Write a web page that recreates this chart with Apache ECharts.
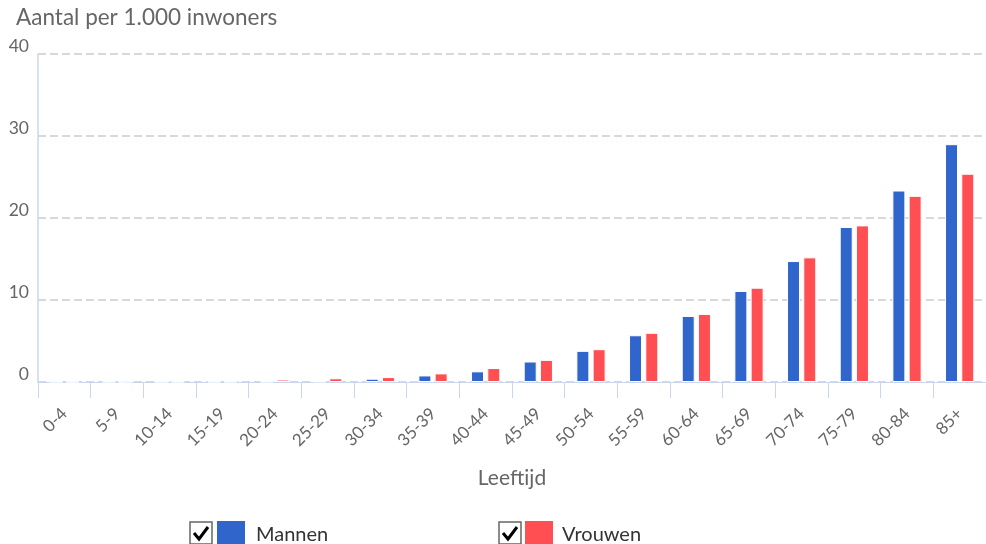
<!DOCTYPE html>
<html>
<head>
<meta charset="utf-8">
<script src="https://cdn.jsdelivr.net/npm/echarts@6/dist/echarts.min.js"></script>
<style>
  html, body { margin: 0; padding: 0; background: #fff; }
  #chart { width: 986px; height: 544px; }
</style>
</head>
<body>
<div id="chart"></div>
<script>
// Leeftijdsgroepen
const ageGroups = ['0-4', '5-9', '10-14', '15-19', '20-24', '25-29', '30-34', '35-39', '40-44',
  '45-49', '50-54', '55-59', '60-64', '65-69', '70-74', '75-79', '80-84', '85+'];

// Aantal per 1.000 inwoners
const mannen = [0.02, 0.02, 0.02, 0.03, 0.04, 0.06, 0.4, 0.8, 1.3, 2.5, 3.8, 5.7, 8.05, 11.1, 14.75, 18.9, 23.35, 29.0];
const vrouwen = [0.01, 0.01, 0.02, 0.03, 0.3, 0.45, 0.6, 1.05, 1.7, 2.7, 4.0, 6.0, 8.3, 11.5, 15.2, 19.1, 22.7, 25.4];

const yTicks = [0, 10, 20, 30, 40];

const FONT = 'Lato, "Open Sans", sans-serif';
const TEXT = '#666666';
const AXIS = '#ccd6eb';
const BLUE = '#3065cc';
const RED = '#ff4f52';

const chart = echarts.init(document.getElementById('chart'), null, { renderer: 'canvas' });

// checkbox drawn in front of each legend entry
function checkbox(x, y) {
  return [
    { type: 'rect', shape: { x: x, y: y, width: 22, height: 22 },
      style: { fill: '#fff', stroke: '#666', lineWidth: 1.5 } },
    { type: 'polyline', shape: { points: [[x + 4, y + 11], [x + 9, y + 17], [x + 18, y + 5]] },
      style: { stroke: '#000', lineWidth: 3, fill: null } }
  ];
}

chart.setOption({
  animation: false,
  textStyle: { fontFamily: FONT },
  title: {
    text: 'Aantal per 1.000 inwoners',
    left: 16, top: 6, padding: 0,
    textStyle: { color: TEXT, fontSize: 22.5, fontWeight: 'normal', fontFamily: FONT }
  },
  legend: [
    { data: ['Mannen'], left: 217, top: 521, padding: 0, icon: 'rect',
      itemWidth: 28, itemHeight: 27, itemStyle: { borderWidth: 0 },
      textStyle: { color: '#333', fontSize: 20, fontFamily: FONT, padding: [0, 0, 0, 6] } },
    { data: ['Vrouwen'], left: 525, top: 521, padding: 0, icon: 'rect',
      itemWidth: 28, itemHeight: 27, itemStyle: { borderWidth: 0 },
      textStyle: { color: '#333', fontSize: 20, fontFamily: FONT, padding: [0, 0, 0, 4] } }
  ],
  graphic: checkbox(190, 522).concat(checkbox(499, 522)),
  grid: { left: 38, right: -7, top: 54, bottom: 162, containLabel: false },
  xAxis: {
    type: 'category',
    data: ageGroups,
    name: 'Leeftijd',
    nameLocation: 'middle',
    nameGap: 86,
    nameTextStyle: { color: TEXT, fontSize: 21, fontFamily: FONT },
    axisLine: { lineStyle: { color: AXIS, width: 1 } },
    axisTick: { show: true, length: 16, lineStyle: { color: AXIS } },
    axisLabel: { rotate: 45, margin: 29, color: TEXT, fontSize: 17, fontFamily: FONT, interval: 0 }
  },
  yAxis: {
    type: 'value',
    min: yTicks[0], max: yTicks[yTicks.length - 1], interval: 10,
    axisLine: { show: true, lineStyle: { color: AXIS, width: 1.5 } },
    axisTick: { show: false },
    axisLabel: { color: TEXT, fontSize: 17.5, fontFamily: FONT, margin: 9,
      verticalAlign: 'bottom', lineHeight: 16 },
    splitLine: { show: true, lineStyle: { color: '#cccccc', width: 1.5, type: [8, 4] } }
  },
  series: [
    { name: 'Mannen', type: 'bar', data: mannen, barWidth: 13, barGap: '25%',
      itemStyle: { color: BLUE, borderColor: '#fff', borderWidth: 1 } },
    { name: 'Vrouwen', type: 'bar', data: vrouwen, barWidth: 13,
      itemStyle: { color: RED, borderColor: '#fff', borderWidth: 1 } }
  ]
});
</script>
</body>
</html>
